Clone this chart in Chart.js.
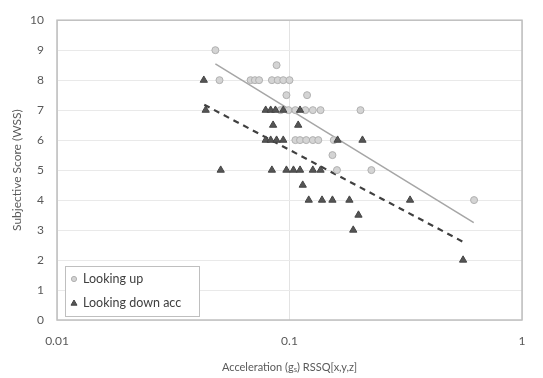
<!DOCTYPE html>
<html><head><meta charset="utf-8">
<script src="https://cdn.jsdelivr.net/npm/chart.js@4"></script>
<style>html,body{margin:0;padding:0;background:#fff}#wrap{width:543px;height:378px}</style>
</head><body><div id="wrap"><canvas id="c" width="543" height="378"></canvas></div>
<script>
const seriesNames = ["Looking up", "Looking down acc"];
const upX = [0.048, 0.050, 0.068, 0.071, 0.074, 0.084, 0.089, 0.094, 0.100, 0.088, 0.097, 0.119, 0.0915, 0.099, 0.106, 0.117, 0.126, 0.136, 0.202, 0.106, 0.111, 0.118, 0.126, 0.133, 0.155, 0.153, 0.160, 0.225, 0.622];
const upY = [9, 8, 8, 8, 8, 8, 8, 8, 8, 8.5, 7.5, 7.5, 7, 7, 7, 7, 7, 7, 7, 6, 6, 6, 6, 6, 6, 5.5, 5, 5, 4];
const downX = [0.0428, 0.0436, 0.079, 0.083, 0.087, 0.094, 0.111, 0.085, 0.109, 0.079, 0.083, 0.088, 0.094, 0.161, 0.206, 0.0506, 0.084, 0.097, 0.104, 0.111, 0.126, 0.136, 0.114, 0.121, 0.138, 0.153, 0.181, 0.330, 0.198, 0.188, 0.558];
const downY = [8, 7, 7, 7, 7, 7, 7, 6.5, 6.5, 6, 6, 6, 6, 6, 6, 5, 5, 5, 5, 5, 5, 5, 4.5, 4, 4, 4, 4, 4, 3.5, 3, 2];
const upTrendX = [0.048, 0.62];
const upTrendY = [8.54, 3.25];
const downTrendX = [0.043, 0.56];
const downTrendY = [7.18, 2.6];
const xTicks = [0.01, 0.1, 1];
const yTitle = "Subjective Score (WSS)";
const xTitle = "Acceleration (gₛ) RSSQ[x,y,z]";

const pts = (xs, ys) => xs.map((x, i) => ({x: x, y: ys[i]}));
const FONT = "Lato, 'Open Sans', sans-serif";

const legendPlugin = {
  id: 'boxLegend',
  afterDraw(chart) {
    const ctx = chart.ctx;
    const ca = chart.chartArea;
    const x0 = ca.left + 8, y0 = ca.bottom - 54, w = 134, h = 50;
    ctx.save();
    ctx.fillStyle = '#fff';
    ctx.fillRect(x0, y0, w, h);
    ctx.strokeStyle = '#bfbfbf';
    ctx.lineWidth = 1;
    ctx.strokeRect(x0 + 0.5, y0 + 0.5, w, h);
    ctx.font = "12.5px " + FONT;
    ctx.textBaseline = 'middle';
    ctx.fillStyle = '#404040';
    [0, 1].forEach((di, k) => {
      const ds = chart.data.datasets[di];
      const cy = y0 + 13 + k * 24;
      const cx = x0 + 9;
      ctx.save();
      ctx.fillStyle = ds.backgroundColor;
      ctx.strokeStyle = ds.borderColor;
      ctx.lineWidth = 1;
      ctx.beginPath();
      if (ds.pointStyle === 'triangle') {
        ctx.moveTo(cx, cy - 3); ctx.lineTo(cx + 3, cy + 2.2); ctx.lineTo(cx - 3, cy + 2.2); ctx.closePath();
      } else {
        ctx.arc(cx, cy, 2.6, 0, Math.PI * 2);
      }
      ctx.fill(); ctx.stroke();
      ctx.restore();
      ctx.fillText(seriesNames[di], x0 + 18, cy);
    });
    ctx.restore();
  }
};
const borderPlugin = {
  id: 'plotBorder',
  beforeDatasetsDraw(chart) {
    const ctx = chart.ctx, ca = chart.chartArea;
    ctx.save();
    ctx.strokeStyle = '#bfbfbf';
    ctx.lineWidth = 1.5;
    ctx.strokeRect(ca.left, ca.top, ca.right - ca.left, ca.bottom - ca.top);
    ctx.restore();
  }
};

new Chart(document.getElementById('c'), {
  type: 'scatter',
  data: {
    datasets: [
      {label: seriesNames[0], data: pts(upX, upY), pointStyle: 'circle', pointRadius: 3.5, backgroundColor: '#d4d4d4', borderColor: '#b0b0b0', borderWidth: 1, order: 2},
      {label: seriesNames[1], data: pts(downX, downY), pointStyle: 'triangle', pointRadius: 4.2, backgroundColor: '#555555', borderColor: '#444444', borderWidth: 1, order: 1},
      {label: 'up trend', type: 'line', data: pts(upTrendX, upTrendY), borderColor: '#a6a6a6', borderWidth: 1.5, pointRadius: 0, fill: false, order: 3},
      {label: 'down trend', type: 'line', data: pts(downTrendX, downTrendY), borderColor: '#404040', borderWidth: 2.2, borderDash: [6, 5], pointRadius: 0, fill: false, order: 3}
    ]
  },
  options: {
    responsive: false,
    animation: false,
    layout: {padding: {top: 12, right: 21, left: 0, bottom: 0}},
    plugins: {legend: {display: false}, tooltip: {enabled: false}},
    scales: {
      x: {
        type: 'logarithmic', min: 0.01, max: 1,
        afterBuildTicks: s => { s.ticks = xTicks.map(v => ({value: v})); },
        afterFit: s => { s.height = 58; },
        ticks: {color: '#595959', font: {family: FONT, size: 12}, padding: 14, maxRotation: 0, callback: v => String(v)},
        grid: {color: '#e3e3e3', drawTicks: false},
        border: {display: false},
        title: {display: true, text: xTitle, color: '#595959', font: {family: FONT, size: 11}, padding: {top: 4}}
      },
      y: {
        min: 0, max: 10,
        afterFit: s => { s.width = 57; },
        ticks: {stepSize: 1, color: '#595959', font: {family: FONT, size: 12}, padding: 13},
        grid: {color: '#e9e9e9', drawTicks: false},
        border: {display: false},
        title: {display: true, text: yTitle, color: '#595959', font: {family: FONT, size: 12}, padding: {top: 10, bottom: 0}}
      }
    }
  },
  plugins: [borderPlugin, legendPlugin]
});
</script>
</body></html>
